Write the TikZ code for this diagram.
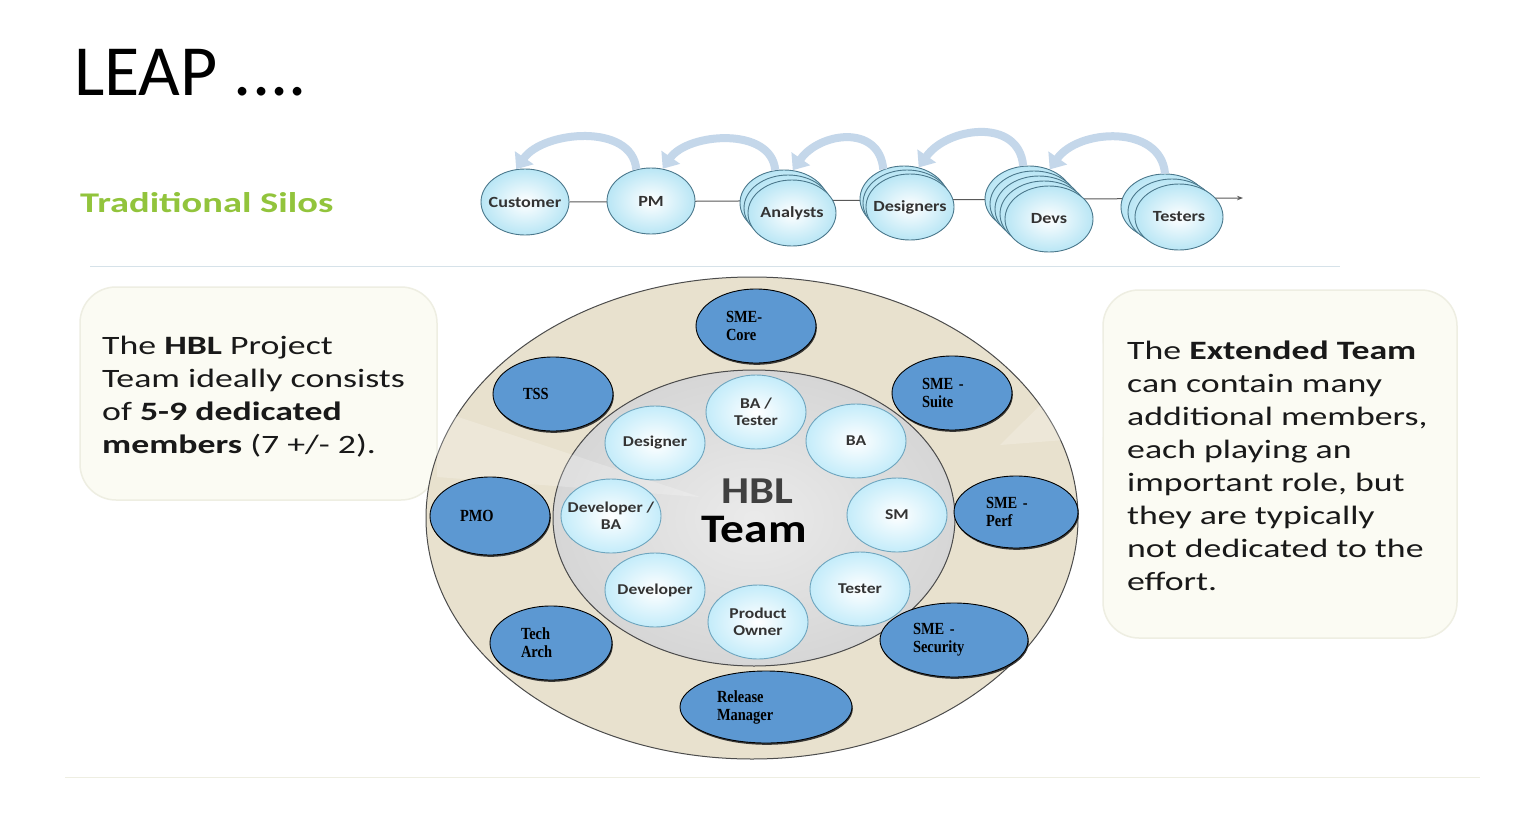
\documentclass[tikz,border=0pt]{standalone}
\usepackage{fontspec}
\setmainfont{Carlito}
\newfontfamily\widefont[FakeStretch=1.35]{Carlito}
\newfontfamily\midfont[FakeStretch=1.17]{Carlito}
\newfontfamily\condserif[FakeStretch=0.85]{Liberation Serif}
\usetikzlibrary{arrows.meta,shapes.geometric,backgrounds,shadows}

\definecolor{silogreen}{RGB}{146,196,60}
\definecolor{silofill}{RGB}{185,230,245}
\definecolor{siloedge}{RGB}{75,120,140}
\definecolor{feedbackblue}{RGB}{196,215,234}
\definecolor{corefill}{RGB}{196,236,250}
\definecolor{coreedge}{RGB}{110,165,190}
\definecolor{extblue}{RGB}{92,152,210}
\definecolor{ringfill}{RGB}{232,225,206}
\definecolor{diskfill}{RGB}{214,214,214}
\definecolor{calloutfill}{RGB}{251,251,243}
\definecolor{calloutedge}{RGB}{238,238,226}
\definecolor{hblgray}{RGB}{64,64,64}
\definecolor{sepline}{RGB}{214,226,233}

\begin{document}
\begin{tikzpicture}[x=1pt,y=1pt,
	silo/.style={ellipse,draw=siloedge,line width=0.9pt,inner color=white,outer color=silofill,minimum width=88pt,minimum height=66pt,inner xsep=-12pt,inner ysep=0pt,font=\midfont\bfseries\fontsize{15.5}{17}\selectfont,text=black!80},
	feedback/.style={draw=feedbackblue,line width=8pt,-{Triangle[width=22pt,length=14pt]}},
	silo line/.style={draw=black!65,line width=1pt,-{Stealth[length=6pt]}},
	core/.style={ellipse,draw=coreedge,line width=0.9pt,inner color=white,outer color=corefill,minimum width=100pt,minimum height=74pt,inner xsep=-12pt,inner ysep=0pt,align=center,font=\midfont\bfseries\fontsize{15}{17}\selectfont,text=black!80},
	ext/.style={ellipse,draw=black,line width=0.9pt,fill=extblue,minimum width=120pt,minimum height=74pt,text width=60pt,align=left,inner sep=2pt,font=\condserif\bfseries\fontsize{17}{18}\selectfont,drop shadow={shadow xshift=0.8pt,shadow yshift=-1.8pt,fill=black!85,opacity=0.9}},
	callout/.style={draw=calloutedge,line width=1.5pt,fill=calloutfill,rounded corners=36pt},
	callout tail/.style={fill=white,opacity=0.22},
	callout text/.style={anchor=north west,inner sep=0pt,align=left,font=\widefont\fontsize{26.5}{33}\selectfont,text=black!90}
	]
	
	\node[anchor=base west,inner sep=0pt,font=\fontsize{72}{80}\selectfont] (title) at (74,-95) {LEAP ....};
	\node[anchor=base west,inner sep=0pt,font=\widefont\bfseries\fontsize{28.5}{30}\selectfont,text=silogreen] (silos) at (80,-212) {Traditional Silos};
	\draw[sepline,line width=1pt] (90,-266) -- (1340,-266);
	\draw[calloutedge,line width=1pt] (65,-777) -- (1480,-777);
	
	% traditional silos
	\node[silo] (cust) at (525,-202) {Customer};
	\node[silo] (pm) at (651,-201) {PM};
	\foreach \k in {2,1}
		\node[silo] (ana-\k) at ({792-4*\k},{-213+5*\k}) {};
	\node[silo] (ana) at (792,-213) {Analysts};
	\foreach \k in {2,1}
		\node[silo] (des-\k) at ({910-3*\k},{-207+4*\k}) {};
	\node[silo] (des) at (910,-207) {Designers};
	\foreach \k in {4,3,2,1}
		\node[silo] (dev-\k) at ({1049-5*\k},{-219+5*\k}) {};
	\node[silo] (devs) at (1049,-219) {Devs};
	\foreach \k in {2,1}
		\node[silo] (tes-\k) at ({1179-7*\k},{-217+5*\k}) {};
	\node[silo] (tes) at (1179,-217) {Testers};
	\coordinate (silo end) at (1243,-198);
	
	\begin{scope}[on background layer]
		\fill[white] (0,0) rectangle (1524,-814);
		\draw[silo line] (cust.east) -- (silo end);
	\end{scope}
	
	\draw[feedback] (pm.115) to[out=95,in=55] (cust.105);
	\draw[feedback] (ana-2.105) to[out=95,in=55] (pm.70);
	\draw[feedback] (des-2.125) to[out=95,in=55,looseness=1.3] (ana-2.75);
	\draw[feedback] (dev-4.100) to[out=95,in=55,looseness=1.2] (des-2.65);
	\draw[feedback] (tes-2.90) to[out=95,in=55,looseness=1.1] (dev-4.55);
	
	% callouts
	\draw[callout] (80,-287) rectangle (437,-500);
	\draw[callout] (1103,-290) rectangle (1457,-638);
	\node[callout text] (hbl note) at (102,-336) {The \textbf{HBL} Project\\Team ideally consists\\of \textbf{5-9 dedicated}\\\textbf{members} (7 +/- 2).};
	\node[callout text] (ext note) at (1127,-341) {The \textbf{Extended Team}\\can contain many\\additional members,\\each playing an\\important role, but\\they are typically\\not dedicated to the\\effort.};
	
	% team circles
	\filldraw[draw=black!70,line width=1pt,fill=ringfill] (752,-518) ellipse [x radius=326, y radius=241];
	\filldraw[draw=black!70,line width=1pt,inner color=white!92!black,outer color=diskfill] (754,-518) ellipse [x radius=201, y radius=148];
	
	\fill[callout tail] (437,-410) -- (700,-497) -- (437,-477) -- cycle;
	\fill[callout tail] (1103,-343) -- (1000,-445) -- (1103,-437) -- cycle;
	
	\node[core] (batest) at (756,-412) {BA /\\Tester};
	\node[core] (designer) at (655,-443) {Designer};
	\node[core] (ba) at (856,-441) {BA};
	\node[core] (devba) at (611,-516) {Developer /\\BA};
	\node[core] (sm) at (897,-515) {SM};
	\node[core] (dev) at (655,-590) {Developer};
	\node[core] (tester) at (860,-589) {Tester};
	\node[core] (po) at (758,-622) {Product\\Owner};
	
	\node[anchor=base,inner sep=0pt,font=\midfont\bfseries\fontsize{38}{40}\selectfont,text=hblgray] (hbl) at (757,-503) {HBL};
	\node[anchor=base,inner sep=0pt,font=\midfont\bfseries\fontsize{40.5}{44}\selectfont] (team) at (754,-542) {Team};
	
	\node[ext] (core) at (756,-326) {SME-\\Core};
	\node[ext] (tss) at (553,-394) {TSS};
	\node[ext] (suite) at (952,-393) {SME -\\Suite};
	\node[ext,minimum height=78pt] (pmo) at (490,-516) {PMO};
	\node[ext,minimum width=124pt,minimum height=72pt] (perf) at (1016,-512) {SME -\\Perf};
	\node[ext,minimum width=122pt] (arch) at (551,-643) {Tech\\Arch};
	\node[ext,minimum width=148pt,text width=82pt] (sec) at (954,-640) {SME -\\Security};
	\node[ext,minimum width=172pt,minimum height=72pt,text width=98pt] (rel) at (766,-707) {Release\\Manager};
\end{tikzpicture}
\end{document}
